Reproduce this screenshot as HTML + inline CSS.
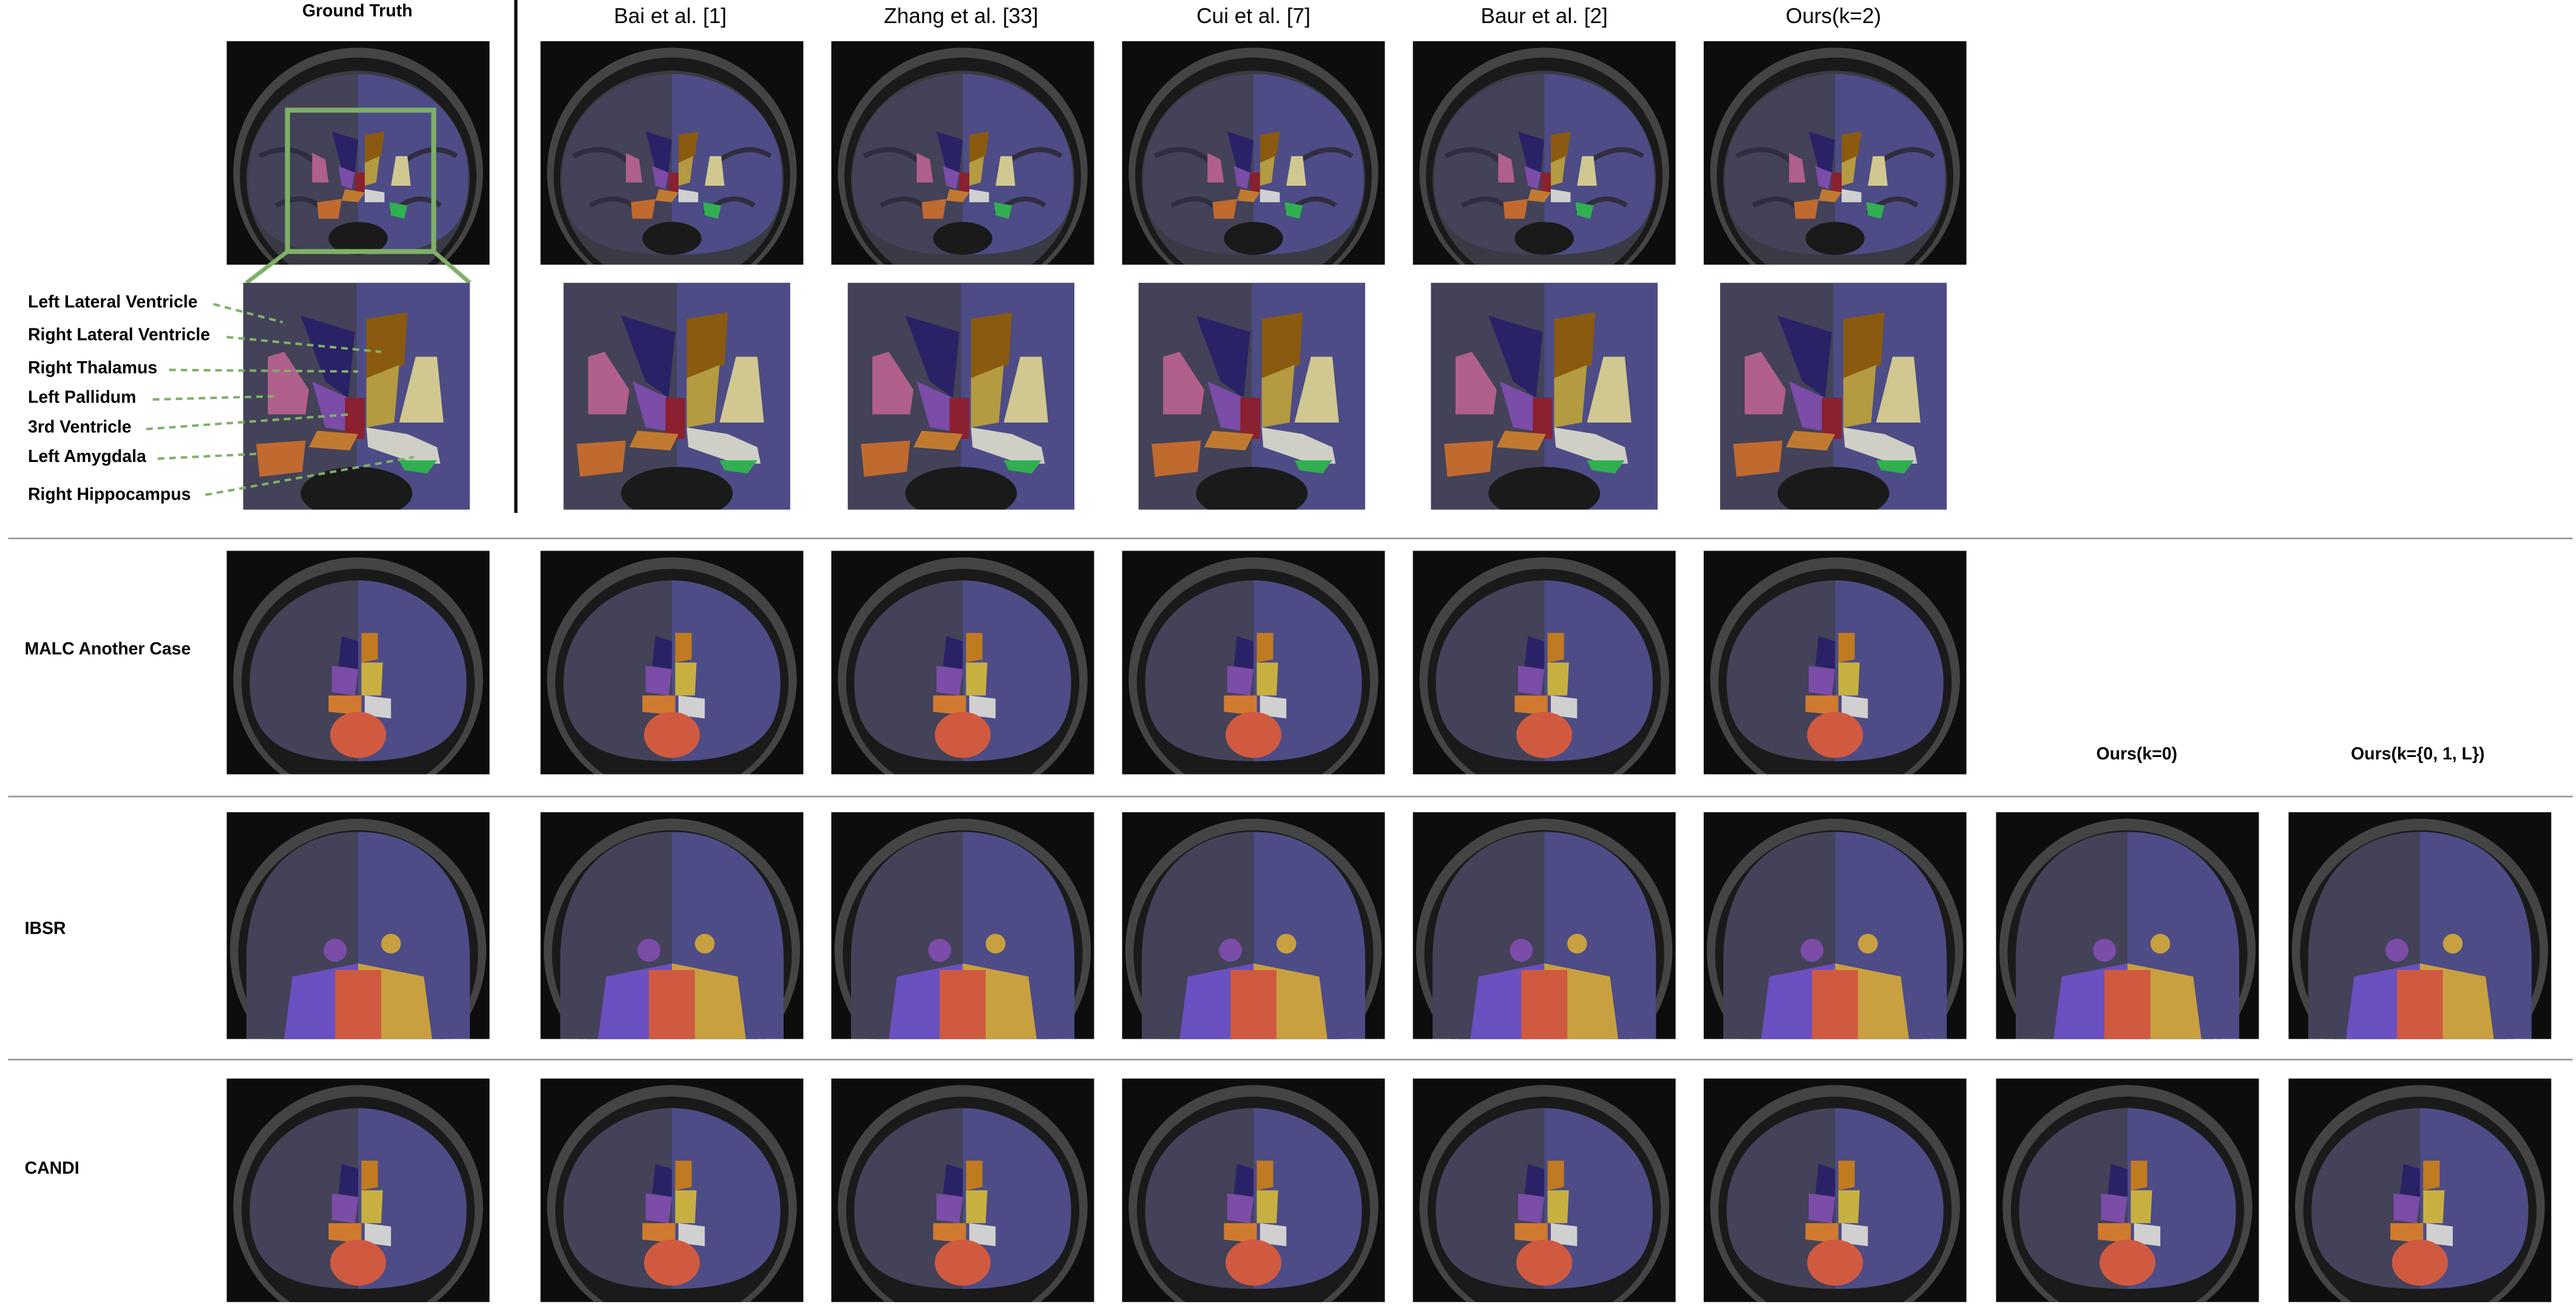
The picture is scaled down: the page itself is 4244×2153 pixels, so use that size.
<!DOCTYPE html>
<html><head><meta charset="utf-8"><style>
html,body{margin:0;padding:0;background:#fff;overflow:hidden}
#wrap{position:absolute;left:0;top:0;width:1568px;height:795px;transform-origin:0 0;transform:scale(2.7066,2.7082);font-family:"Liberation Sans",sans-serif}
.t{position:absolute;white-space:nowrap;color:#000}
.h{font-size:13px;transform:translateX(-50%)}
.b{font-weight:bold;font-size:10.5px}
svg.img{position:absolute}
.sep{position:absolute;left:5px;width:1561px;height:1px;background:#999}
</style></head><body>
<div id="wrap">
<svg width="0" height="0" style="position:absolute">
<defs>
<symbol id="brain" viewBox="0 0 160 136">
<rect width="160" height="136" fill="#0d0d0d"/>
<ellipse cx="80" cy="80" rx="76" ry="76" fill="#444"/>
<ellipse cx="80" cy="82" rx="72" ry="72" fill="#1a1a1a"/>
<ellipse cx="80" cy="84" rx="68" ry="66" fill="#3a3a44"/>
<path d="M80 20 C110 20 148 40 147 85 C147 115 130 130 80 130 Z" fill="#4d4c86"/>
<path d="M80 20 C50 20 13 40 13 85 C13 115 30 130 80 130 Z" fill="#434258"/>
<path d="M20 70 Q40 60 55 75 M105 75 Q125 60 140 70 M30 100 Q50 90 60 105 M100 105 Q115 90 130 100" stroke="#2e2e40" stroke-width="3" fill="none"/>
<ellipse cx="80" cy="120" rx="18" ry="10" fill="#1a1a1a"/>
<path d="M64 55 L80 60 L78 80 L70 78 Z" fill="#2a2266"/>
<path d="M84 57 L96 55 L94 70 L84 74 Z" fill="#8a5a10"/>
<path d="M84 74 L93 70 L91 86 L84 88 Z" fill="#b49a40"/>
<path d="M68 76 L78 80 L76 90 L70 88 Z" fill="#7b4ca8"/>
<rect x="78" y="80" width="6" height="12" fill="#8a2030"/>
<path d="M52 68 L60 72 L62 86 L52 86 Z" fill="#b0608a"/>
<path d="M103 70 L110 70 L112 88 L100 88 Z" fill="#d0c890"/>
<path d="M72 90 L84 92 L80 98 L70 97 Z" fill="#c07a30"/>
<path d="M84 90 L96 92 L96 98 L84 98 Z" fill="#d0d0d0"/>
<path d="M55 98 L70 96 L68 108 L56 108 Z" fill="#c06a30"/>
<path d="M99 98 L110 100 L108 108 L100 106 Z" fill="#30b050"/>
</symbol>
<symbol id="crop" viewBox="0 0 138 138">
<rect width="138" height="138" fill="#434258"/>
<path d="M69 0 L138 0 L138 138 L69 138 Z" fill="#4d4c86"/>
<ellipse cx="69" cy="128" rx="34" ry="16" fill="#1a1a1a"/>
<path d="M35 20 L68 30 L64 70 L50 60 Z" fill="#2a2266"/>
<path d="M75 22 L100 18 L98 50 L75 58 Z" fill="#8a5a10"/>
<path d="M75 58 L95 50 L92 85 L75 88 Z" fill="#b49a40"/>
<path d="M42 60 L64 70 L62 90 L50 88 Z" fill="#7b4ca8"/>
<rect x="62" y="70" width="12" height="25" fill="#8a2030"/>
<path d="M15 45 L25 42 L40 65 L38 80 L15 80 Z" fill="#b0608a"/>
<path d="M105 45 L118 45 L122 85 L95 85 Z" fill="#d0c890"/>
<path d="M45 90 L70 92 L65 102 L40 100 Z" fill="#c07a30"/>
<path d="M75 88 L100 92 L118 100 L120 110 L105 110 L76 100 Z" fill="#cfcfc6"/>
<path d="M8 98 L38 96 L36 115 L10 118 Z" fill="#c06a30"/>
<path d="M95 108 L118 108 L112 116 L98 114 Z" fill="#30b050"/>
</symbol>
<symbol id="brain2" viewBox="0 0 160 136">
<rect width="160" height="136" fill="#0d0d0d"/>
<ellipse cx="80" cy="78" rx="76" ry="74" fill="#444"/>
<ellipse cx="80" cy="80" rx="71" ry="69" fill="#1a1a1a"/>
<path d="M80 18 C110 18 146 40 146 80 C146 112 130 128 80 128 Z" fill="#4d4c86"/>
<path d="M80 18 C50 18 14 40 14 80 C14 112 30 128 80 128 Z" fill="#434258"/>
<path d="M70 52 L80 55 L80 72 L68 70 Z" fill="#2a2266"/>
<path d="M82 50 L92 50 L92 66 L82 68 Z" fill="#c07a20"/>
<path d="M64 70 L80 72 L78 88 L64 86 Z" fill="#7b4ca8"/>
<path d="M82 68 L95 68 L94 88 L82 88 Z" fill="#c8b040"/>
<path d="M62 88 L82 88 L82 100 L62 98 Z" fill="#d07a30"/>
<path d="M84 88 L100 90 L100 102 L84 100 Z" fill="#d0d0d0"/>
<ellipse cx="80" cy="112" rx="17" ry="14" fill="#d05a40"/>
</symbol>
<symbol id="brain3" viewBox="0 0 160 138">
<rect width="160" height="138" fill="#0d0d0d"/>
<ellipse cx="80" cy="84" rx="78" ry="80" fill="#444"/>
<ellipse cx="80" cy="86" rx="73" ry="75" fill="#1a1a1a"/>
<path d="M80 12 C120 12 148 40 148 90 L148 138 L80 138 Z" fill="#4d4c86"/>
<path d="M80 12 C40 12 12 40 12 90 L12 138 L80 138 Z" fill="#434258"/>
<circle cx="66" cy="84" r="7" fill="#7b4ca8"/>
<circle cx="100" cy="80" r="6" fill="#c8a040"/>
<path d="M40 100 L80 92 L80 138 L35 138 Z" fill="#6a50c0"/>
<path d="M80 92 L120 100 L125 138 L80 138 Z" fill="#c8a040"/>
<rect x="66" y="96" width="28" height="42" fill="#d05a40"/>
</symbol>
</defs>
</svg>

<div class="t b" style="left:184px;top:1px">Ground Truth</div>
<div class="t h" style="left:408px;top:2px">Bai et al. [1]</div>
<div class="t h" style="left:585px;top:2px">Zhang et al. [33]</div>
<div class="t h" style="left:763px;top:2px">Cui et al. [7]</div>
<div class="t h" style="left:940px;top:2px">Baur et al. [2]</div>
<div class="t h" style="left:1116px;top:2px">Ours(k=2)</div>
<div style="position:absolute;left:313px;top:0;width:2px;height:312px;background:#111"></div>

<svg class="img" style="left:138px;top:25px" width="160" height="136"><use href="#brain"/><rect x="37" y="42" width="89" height="86" fill="none" stroke="#7fb068" stroke-width="3"/></svg>
<svg class="img" style="left:329px;top:25px" width="160" height="136"><use href="#brain"/></svg>
<svg class="img" style="left:506px;top:25px" width="160" height="136"><use href="#brain"/></svg>
<svg class="img" style="left:683px;top:25px" width="160" height="136"><use href="#brain"/></svg>
<svg class="img" style="left:860px;top:25px" width="160" height="136"><use href="#brain"/></svg>
<svg class="img" style="left:1037px;top:25px" width="160" height="136"><use href="#brain"/></svg>

<svg class="img" style="left:140px;top:150px;overflow:visible" width="160" height="30"><line x1="35" y1="3" x2="10" y2="22" stroke="#7fb068" stroke-width="2.5"/><line x1="124" y1="3" x2="146" y2="22" stroke="#7fb068" stroke-width="2.5"/></svg>
<svg class="img" style="left:148px;top:172px" width="138" height="138"><use href="#crop"/></svg>
<svg class="img" style="left:343px;top:172px" width="138" height="138"><use href="#crop"/></svg>
<svg class="img" style="left:516px;top:172px" width="138" height="138"><use href="#crop"/></svg>
<svg class="img" style="left:693px;top:172px" width="138" height="138"><use href="#crop"/></svg>
<svg class="img" style="left:871px;top:172px" width="138" height="138"><use href="#crop"/></svg>
<svg class="img" style="left:1047px;top:172px" width="138" height="138"><use href="#crop"/></svg>

<div class="t b" style="left:17px;top:178px">Left Lateral Ventricle</div>
<div class="t b" style="left:17px;top:198px">Right Lateral Ventricle</div>
<div class="t b" style="left:17px;top:218px">Right Thalamus</div>
<div class="t b" style="left:17px;top:236px">Left Pallidum</div>
<div class="t b" style="left:17px;top:254px">3rd Ventricle</div>
<div class="t b" style="left:17px;top:272px">Left Amygdala</div>
<div class="t b" style="left:17px;top:295px">Right Hippocampus</div>
<svg class="img" style="left:0;top:0;overflow:visible" width="300" height="320">
<g stroke="#7fb068" stroke-width="1.5" stroke-dasharray="4,3" fill="none">
<line x1="130" y1="185" x2="172" y2="196"/>
<line x1="138" y1="205" x2="232" y2="214"/>
<line x1="103" y1="225" x2="218" y2="226"/>
<line x1="93" y1="243" x2="168" y2="241"/>
<line x1="89" y1="261" x2="214" y2="252"/>
<line x1="96" y1="279" x2="158" y2="276"/>
<line x1="125" y1="301" x2="252" y2="278"/>
</g></svg>

<div class="sep" style="top:327px"></div>
<div class="t b" style="left:15px;top:389px">MALC Another Case</div>
<svg class="img" style="left:138px;top:335px" width="160" height="136"><use href="#brain2"/></svg>
<svg class="img" style="left:329px;top:335px" width="160" height="136"><use href="#brain2"/></svg>
<svg class="img" style="left:506px;top:335px" width="160" height="136"><use href="#brain2"/></svg>
<svg class="img" style="left:683px;top:335px" width="160" height="136"><use href="#brain2"/></svg>
<svg class="img" style="left:860px;top:335px" width="160" height="136"><use href="#brain2"/></svg>
<svg class="img" style="left:1037px;top:335px" width="160" height="136"><use href="#brain2"/></svg>
<div class="t b" style="left:1276px;top:453px">Ours(k=0)</div>
<div class="t b" style="left:1431px;top:453px">Ours(k={0, 1, L})</div>

<div class="sep" style="top:484px"></div>
<div class="t b" style="left:15px;top:559px">IBSR</div>
<svg class="img" style="left:138px;top:494px" width="160" height="138"><use href="#brain3"/></svg>
<svg class="img" style="left:329px;top:494px" width="160" height="138"><use href="#brain3"/></svg>
<svg class="img" style="left:506px;top:494px" width="160" height="138"><use href="#brain3"/></svg>
<svg class="img" style="left:683px;top:494px" width="160" height="138"><use href="#brain3"/></svg>
<svg class="img" style="left:860px;top:494px" width="160" height="138"><use href="#brain3"/></svg>
<svg class="img" style="left:1037px;top:494px" width="160" height="138"><use href="#brain3"/></svg>
<svg class="img" style="left:1215px;top:494px" width="160" height="138"><use href="#brain3"/></svg>
<svg class="img" style="left:1393px;top:494px" width="160" height="138"><use href="#brain3"/></svg>

<div class="sep" style="top:644px"></div>
<div class="t b" style="left:15px;top:705px">CANDI</div>
<svg class="img" style="left:138px;top:656px" width="160" height="136"><use href="#brain2"/></svg>
<svg class="img" style="left:329px;top:656px" width="160" height="136"><use href="#brain2"/></svg>
<svg class="img" style="left:506px;top:656px" width="160" height="136"><use href="#brain2"/></svg>
<svg class="img" style="left:683px;top:656px" width="160" height="136"><use href="#brain2"/></svg>
<svg class="img" style="left:860px;top:656px" width="160" height="136"><use href="#brain2"/></svg>
<svg class="img" style="left:1037px;top:656px" width="160" height="136"><use href="#brain2"/></svg>
<svg class="img" style="left:1215px;top:656px" width="160" height="136"><use href="#brain2"/></svg>
<svg class="img" style="left:1393px;top:656px" width="160" height="136"><use href="#brain2"/></svg>
</div>
</body></html>
